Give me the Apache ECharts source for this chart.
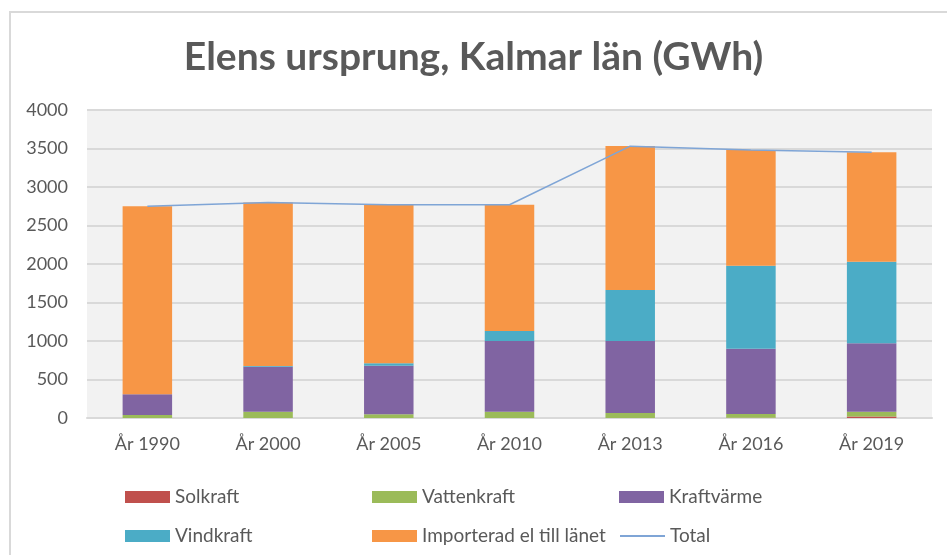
<!DOCTYPE html>
<html>
<head>
<meta charset="utf-8">
<script src="https://cdn.jsdelivr.net/npm/echarts@6/dist/echarts.min.js"></script>
<style>
  html, body { margin: 0; padding: 0; background: #fff; }
  #chart { width: 947px; height: 555px; }
</style>
</head>
<body>
<div id="chart"></div>
<script>
const years = ["År 1990", "År 2000", "År 2005", "År 2010", "År 2013", "År 2016", "År 2019"];
const solkraft = [0, 0, 0, 0, 1, 3, 20];
const vattenkraft = [40, 80, 50, 80, 65, 50, 60];
const kraftvarme = [270, 585, 630, 920, 935, 845, 890];
const vindkraft = [0, 10, 30, 130, 660, 1080, 1060];
const importerad = [2440, 2125, 2060, 1640, 1870, 1502, 1420];
const total = [2750, 2800, 2770, 2770, 3530, 3480, 3450];

const font = "Lato, 'Open Sans', sans-serif";
const textColor = "#595959";

function barSeries(name, data, color) {
  return {
    name: name,
    type: "bar",
    stack: "el",
    barWidth: "41%",
    itemStyle: { color: color },
    data: data
  };
}

const legendText = {
  color: textColor,
  fontSize: 19,
  fontFamily: font,
  width: 187,
  lineHeight: 22
};

const chart = echarts.init(document.getElementById("chart"));
chart.setOption({
  animation: false,
  backgroundColor: "#fff",
  graphic: [
    {
      type: "rect",
      shape: { x: 10, y: 12, width: 960, height: 570 },
      style: { fill: "none", stroke: "#d9d9d9", lineWidth: 2 },
      z: -1
    }
  ],
  title: {
    text: "Elens ursprung, Kalmar län (GWh)",
    left: "center",
    top: 33,
    textStyle: {
      color: textColor,
      fontSize: 39,
      fontWeight: "bold",
      fontFamily: font
    }
  },
  legend: [
    {
      left: 120,
      top: 481,
      itemWidth: 45,
      itemHeight: 12,
      itemGap: 10,
      icon: "rect",
      textStyle: legendText,
      data: ["Solkraft", "Vattenkraft", "Kraftvärme"]
    },
    {
      left: 120,
      top: 520,
      itemWidth: 45,
      itemHeight: 12,
      itemGap: 10,
      textStyle: legendText,
      data: [
        { name: "Vindkraft", icon: "rect" },
        { name: "Importerad el till länet", icon: "rect" },
        { name: "Total", itemStyle: { opacity: 0 } }
      ]
    }
  ],
  grid: {
    left: 87,
    right: 15,
    top: 110,
    height: 308,
    show: true,
    backgroundColor: "#f2f2f2",
    borderWidth: 0
  },
  xAxis: {
    type: "category",
    data: years,
    axisTick: { show: false },
    axisLine: { lineStyle: { color: "#d9d9d9", width: 2 } },
    axisLabel: { color: textColor, fontSize: 18, fontFamily: font, margin: 17 }
  },
  yAxis: {
    type: "value",
    min: 0,
    max: 4000,
    interval: 500,
    axisLabel: {
      color: textColor,
      fontSize: 18,
      fontFamily: font,
      margin: 19,
      formatter: function (v) { return String(v); }
    },
    splitLine: { lineStyle: { color: "#d9d9d9", width: 2 } }
  },
  series: [
    barSeries("Solkraft", solkraft, "#c0504d"),
    barSeries("Vattenkraft", vattenkraft, "#9bbb59"),
    barSeries("Kraftvärme", kraftvarme, "#8064a2"),
    barSeries("Vindkraft", vindkraft, "#4bacc6"),
    barSeries("Importerad el till länet", importerad, "#f79646"),
    {
      name: "Total",
      type: "line",
      data: total,
      symbol: "none",
      lineStyle: { color: "#7fa5d6", width: 1.5 },
      itemStyle: { color: "#7fa5d6" },
      z: 5
    }
  ]
});
</script>
</body>
</html>
